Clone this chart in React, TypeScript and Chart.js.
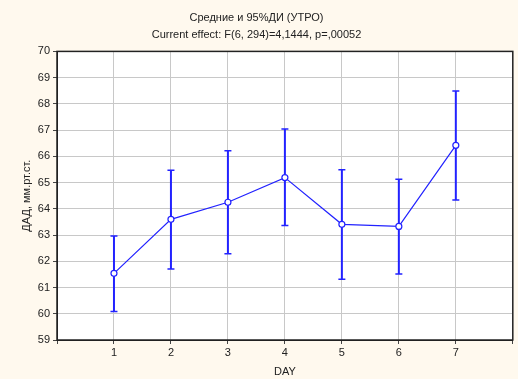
import React, { useEffect, useRef } from "react";
import { Chart, registerables } from "chart.js";

Chart.register(...registerables);

// Day of observation and the morning diastolic pressure: means with 95% CI
const days = [1, 2, 3, 4, 5, 6, 7];
const means = [61.54, 63.6, 64.25, 65.19, 63.41, 63.33, 66.42];
const upper = [62.96, 65.47, 66.21, 67.04, 65.49, 65.13, 68.49];
const lower = [60.09, 61.71, 62.29, 63.36, 61.32, 61.52, 64.34];

const titleText = "Средние и 95%ДИ (УТРО)";
const subtitleText = "Current effect: F(6, 294)=4,1444, p=,00052";
const yTitle = "ДАД, мм.рт.ст.";
const xTitle = "DAY";

const FONT = "'Liberation Sans', Arial, sans-serif";
const BLUE = "#2222ff";

const plotBackground = {
  id: "plotBackground",
  beforeDraw(chart: any) {
    const { ctx, chartArea: a } = chart;
    ctx.save();
    ctx.fillStyle = "#ffffff";
    ctx.fillRect(a.left, a.top, a.right - a.left, a.bottom - a.top);
    ctx.restore();
  },
  afterDraw(chart: any) {
    const { ctx, chartArea: a } = chart;
    ctx.save();
    ctx.strokeStyle = "#222222";
    ctx.lineWidth = 1.5;
    ctx.strokeRect(a.left, a.top, a.right - a.left, a.bottom - a.top);
    ctx.restore();
  },
};

const errorBars = {
  id: "errorBars",
  beforeDatasetsDraw(chart: any) {
    const { ctx, chartArea: a } = chart;
    const xs = chart.scales.x;
    const ys = chart.scales.y;
    ctx.save();
    ctx.beginPath();
    ctx.rect(a.left, a.top, a.right - a.left, a.bottom - a.top);
    ctx.clip();
    ctx.strokeStyle = BLUE;
    days.forEach((d, i) => {
      const x = xs.getPixelForValue(d);
      const yHi = ys.getPixelForValue(upper[i]);
      const yLo = ys.getPixelForValue(lower[i]);
      ctx.lineWidth = 2;
      ctx.beginPath();
      ctx.moveTo(x, yHi);
      ctx.lineTo(x, yLo);
      ctx.stroke();
      ctx.lineWidth = 1.5;
      ctx.beginPath();
      ctx.moveTo(x - 3.5, yHi);
      ctx.lineTo(x + 3.5, yHi);
      ctx.moveTo(x - 3.5, yLo);
      ctx.lineTo(x + 3.5, yLo);
      ctx.stroke();
    });
    ctx.restore();
  },
};

export default function App() {
  const ref = useRef<HTMLCanvasElement>(null);

  useEffect(() => {
    if (!ref.current) return;
    const chart = new Chart(ref.current, {
      type: "line",
      data: {
        datasets: [
          {
            data: days.map((d, i) => ({ x: d, y: means[i] })),
            borderColor: BLUE,
            borderWidth: 1.2,
            pointRadius: 3,
            pointBorderWidth: 1.2,
            pointBackgroundColor: "#ffffff",
            pointBorderColor: BLUE,
            tension: 0,
          },
        ],
      },
      plugins: [plotBackground, errorBars],
      options: {
        responsive: false,
        animation: false,
        layout: { padding: { left: 0, right: 5, top: 0, bottom: 0 } },
        plugins: {
          legend: { display: false },
          tooltip: { enabled: false },
          title: {
            display: true,
            text: titleText,
            color: "#222222",
            font: { family: FONT, size: 11, weight: "normal" },
            padding: { top: 11, bottom: 2 },
          },
          subtitle: {
            display: true,
            text: subtitleText,
            color: "#222222",
            font: { family: FONT, size: 11, weight: "normal" },
            padding: { top: 2, bottom: 10 },
          },
        },
        scales: {
          x: {
            type: "linear",
            min: 0,
            max: 8,
            afterFit(scale: any) {
              scale.height = 39;
            },
            ticks: {
              stepSize: 1,
              color: "#222222",
              font: { family: FONT, size: 11 },
              padding: 2,
              maxRotation: 0,
              callback: (v: any) => (v >= 1 && v <= 7 ? String(v) : ""),
            },
            grid: { color: "#c8c8c8", lineWidth: 1, tickLength: 4, tickColor: "#444444" },
            border: { color: "#222222", width: 1 },
            title: {
              display: true,
              text: xTitle,
              color: "#222222",
              font: { family: FONT, size: 11 },
              padding: { top: 1, bottom: 0 },
            },
          },
          y: {
            min: 59,
            max: 70,
            afterFit(scale: any) {
              scale.width = 57;
            },
            ticks: {
              stepSize: 1,
              color: "#222222",
              font: { family: FONT, size: 11 },
              padding: 3,
            },
            grid: { color: "#c8c8c8", lineWidth: 1, tickLength: 4, tickColor: "#444444" },
            border: { color: "#222222", width: 1 },
            title: {
              display: true,
              text: yTitle,
              color: "#222222",
              font: { family: FONT, size: 11 },
              padding: { top: 20, bottom: 4 },
            },
          },
        },
      },
    });
    return () => chart.destroy();
  }, []);

  return (
    <div
      style={{
        position: "absolute",
        left: 0,
        top: 0,
        width: 518,
        height: 379,
        background: "#fff9ee",
      }}
    >
      <canvas ref={ref} width={518} height={379} />
    </div>
  );
}
